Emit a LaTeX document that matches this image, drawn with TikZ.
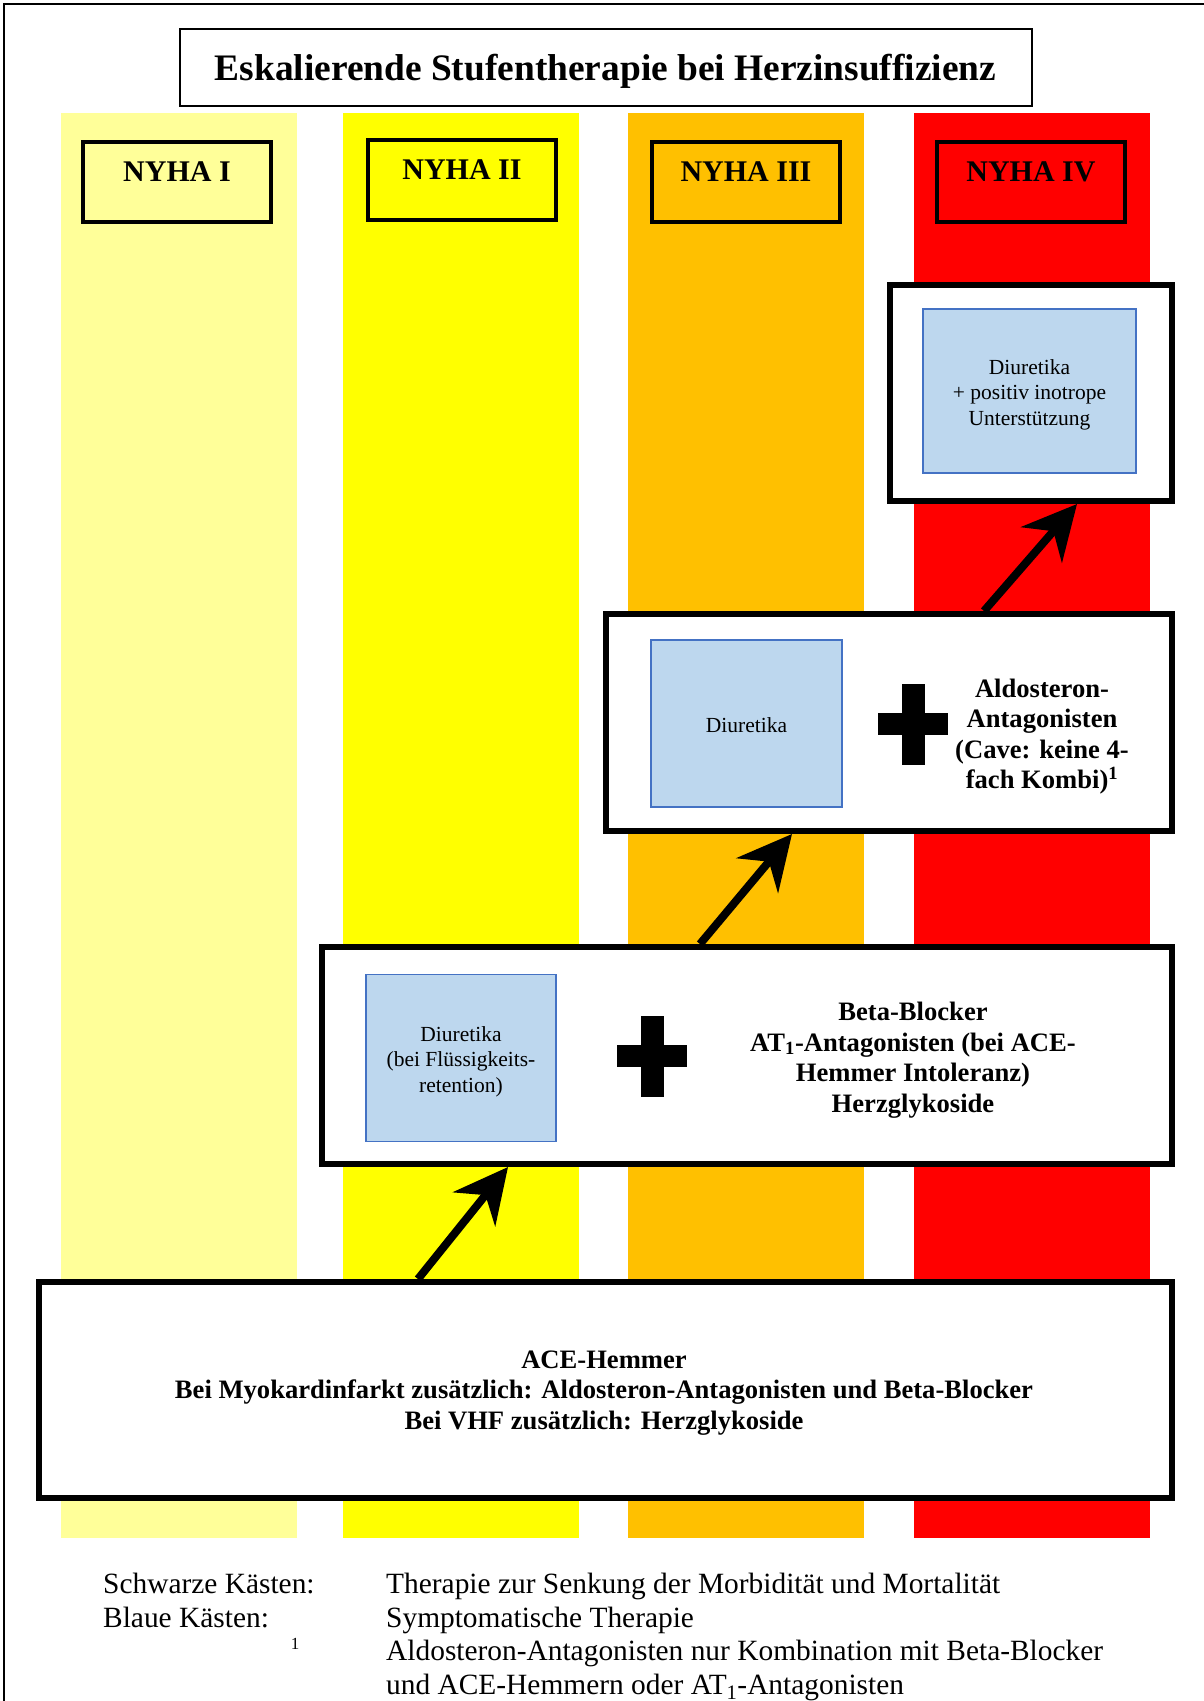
\documentclass[tikz,border=0pt]{standalone}
\usepackage{fontspec}
\setmainfont{Liberation Serif}
\usepackage{tikz}
\usetikzlibrary{arrows.meta}
\definecolor{nyhaone}{RGB}{255,255,153}
\definecolor{nyhatwo}{RGB}{255,255,0}
\definecolor{nyhathree}{RGB}{255,192,0}
\definecolor{nyhafour}{RGB}{255,0,0}
\definecolor{symfill}{RGB}{189,215,238}
\definecolor{symdraw}{RGB}{68,114,196}

\begin{document}
\begin{tikzpicture}[
    x=1pt, y=-1pt,
    column/.style={inner sep=0pt, minimum width=236pt, minimum height=1425pt},
    titlebox/.style={draw, line width=2pt, minimum width=852pt, minimum height=77pt, inner sep=0pt, text depth=0pt, font=\fontsize{37.4}{40}\selectfont\bfseries},
    nyhabox/.style={draw, line width=4pt, minimum width=188pt, minimum height=80pt, inner sep=0pt, text depth=20pt, font=\fontsize{30}{34}\selectfont\bfseries},
    therapy/.style={draw, fill=white, line width=6pt, inner sep=0pt},
    symbox/.style={draw=symdraw, fill=symfill, line width=1.2pt, inner sep=0pt},
    symtext/.style={inner sep=0pt, align=center, font=\fontsize{21.5}{25.5}\selectfont},
    drug/.style={inner sep=0pt, align=center, font=\fontsize{26.6}{30.5}\selectfont\bfseries},
    legend/.style={inner sep=0pt, anchor=base west, font=\fontsize{29.4}{33.5}\selectfont},
    escalate/.style={line width=8pt, -{Stealth[length=54pt, width=54pt, inset=18pt]}}
]
    \useasboundingbox (0,0) rectangle (1204,1701);

    % page frame (top and left only)
    \draw[line width=2pt] (1204,4) -- (4,4) -- (4,1701);

    % NYHA columns
    \node[column, fill=nyhaone] (col1) at (178.5,825.5) {};
    \node[column, fill=nyhatwo] (col2) at (460.5,825.5) {};
    \node[column, fill=nyhathree] (col3) at (746,825.5) {};
    \node[column, fill=nyhafour] (col4) at (1031.5,825.5) {};

    % title
    \node[titlebox] (title) at (605.5,67) {Eskalierende Stufentherapie bei Herzinsuffizienz};

    % stage labels
    \node[nyhabox] (nyha1) at (177,181.5) {NYHA I};
    \node[nyhabox] (nyha2) at (462,180) {NYHA II};
    \node[nyhabox] (nyha3) at (746,182) {NYHA III};
    \node[nyhabox] (nyha4) at (1031,182) {NYHA IV};

    % therapy boxes
    \node[therapy, minimum width=282pt, minimum height=216pt] (stagefour) at (1031,393) {};
    \node[therapy, minimum width=566pt, minimum height=217pt] (stagethree) at (889,722.5) {};
    \node[therapy, minimum width=850pt, minimum height=217pt] (stagetwo) at (747,1055.5) {};
    \node[therapy, minimum width=1133pt, minimum height=216pt] (base) at (605.5,1390) {};

    % symptomatic therapy (blue)
    \node[symbox, minimum width=213pt, minimum height=164pt] (symfour) at (1029.5,391) {};
    \node[symbox, minimum width=191pt, minimum height=167pt] (symthree) at (746.5,723.5) {};
    \node[symbox, minimum width=190pt, minimum height=167pt] (symtwo) at (461,1058) {};
    \node[symtext] (symfourtext) at ([yshift=-3.5pt]symfour) {Diuretika\\+ positiv inotrope\\Unterstützung};
    \node[symtext] (symthreetext) at ([yshift=-2pt]symthree) {Diuretika};
    \node[symtext] (symtwotext) at ([yshift=-3.5pt]symtwo) {Diuretika\\(bei Flüssigkeits-\\retention)};

    % plus signs
    \coordinate (plusthree) at (913,724);
    \coordinate (plustwo) at (652,1056);
    \fill (plusthree) +(-35,-11) rectangle +(35,11);
    \fill (plusthree) +(-11.5,-40.5) rectangle +(11.5,40.5);
    \fill (plustwo) +(-35,-11) rectangle +(35,11);
    \fill (plustwo) +(-11.5,-40.5) rectangle +(11.5,40.5);

    % drug texts
    \node[drug] (aldo) at (1042,736.5) {Aldosteron-\\Antagonisten\\(Cave: keine 4-\\fach Kombi)\textsuperscript{1}};
    \node[drug] (betablock) at (913,1060) {Beta-Blocker\\AT\textsubscript{1}-Antagonisten (bei ACE-\\Hemmer Intoleranz)\\Herzglykoside};
    \node[drug] (acetext) at (604,1393) {ACE-Hemmer\\Bei Myokardinfarkt zusätzlich: Aldosteron-Antagonisten und Beta-Blocker\\Bei VHF zusätzlich: Herzglykoside};

    % escalation arrows
    \draw[escalate] ([xshift=382pt]base.north west) -- ([xshift=189pt]stagetwo.south west);
    \draw[escalate] ([xshift=381pt]stagetwo.north west) -- ([xshift=189pt]stagethree.south west);
    \draw[escalate] ([xshift=381pt]stagethree.north west) -- ([xshift=190pt]stagefour.south west);

    % legend
    \node[legend] (keyblack) at (103,1593.5) {Schwarze Kästen:};
    \node[legend] (keyblue) at (103,1627) {Blaue Kästen:};
    \node[inner sep=0pt, font=\fontsize{17}{20}\selectfont] (fnmark) at (295,1644) {1};
    \node[legend] (noteblack) at (386,1593.5) {Therapie zur Senkung der Morbidität und Mortalität};
    \node[legend] (noteblue) at (386,1627) {Symptomatische Therapie};
    \node[legend] (notea) at (386,1660.5) {Aldosteron-Antagonisten nur Kombination mit Beta-Blocker};
    \node[legend] (noteb) at (386,1694) {und ACE-Hemmern oder AT\textsubscript{1}-Antagonisten};
\end{tikzpicture}
\end{document}
